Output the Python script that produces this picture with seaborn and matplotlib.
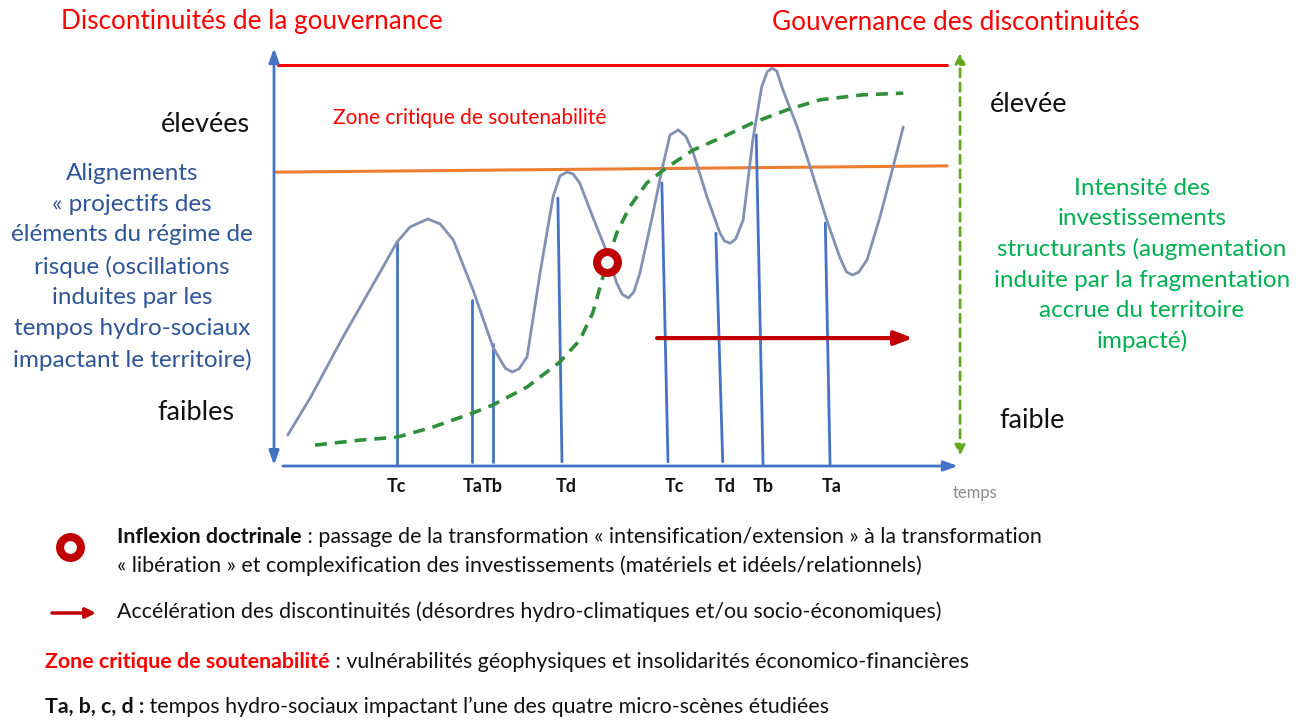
import matplotlib
matplotlib.use("Agg")
import matplotlib.pyplot as plt
import seaborn as sns
import pandas as pd

W, H = 1304, 723

# regime-of-risk oscillation curve (temps 0-100, intensity 0-100)
curve_t = [2.0, 5.3, 10.1, 15.1, 18.0, 19.9, 22.5, 24.3, 26.2, 29.1, 32.0, 33.8, 34.8,
           35.8, 37.0, 38.9, 40.8, 41.8, 42.8, 43.7, 44.7, 46.6, 48.7, 50.1, 50.9,
           51.8, 52.6, 53.5, 55.3, 56.7, 57.9, 59.1, 60.2, 61.3, 63.3, 65.2, 65.9,
           66.7, 67.5, 68.6, 70.0, 71.3, 72.1, 72.8, 73.5, 74.4, 76.5, 78.4, 80.8,
           82.7, 83.7, 84.6, 85.5, 86.7, 88.6, 90.5, 92.0]
curve_v = [7.4, 16.3, 30.9, 45.2, 53.6, 57.2, 59.1, 57.9, 54.1, 42.1, 28.5, 23.4, 22.5,
           23.2, 26.1, 46.2, 64.4, 69.4, 70.3, 69.9, 67.7, 59.6, 51.0, 43.8, 41.1,
           40.2, 41.6, 46.2, 59.6, 70.8, 79.2, 80.4, 78.9, 74.9, 64.4, 55.7, 53.8,
           53.3, 54.3, 58.9, 78.0, 90.7, 94.3, 95.2, 94.5, 90.0, 81.1, 71.5, 58.9,
           50.0, 46.4, 45.7, 46.4, 49.3, 59.6, 71.5, 81.1]

# intensity of structuring investments (dashed green)
invest_t = [6.0, 12.6, 18.0, 23.2, 29.1, 32.0, 37.0, 41.8, 44.7, 46.6, 48.7, 50.1,
            52.0, 54.5, 57.5, 61.3, 65.6, 70.0, 75.0, 79.8, 86.1, 92.0]
invest_v = [5.0, 6.2, 6.9, 9.3, 12.7, 14.6, 18.9, 24.9, 30.1, 36.6, 48.8, 55.7,
            62.0, 67.7, 71.5, 75.6, 78.7, 82.1, 85.2, 87.6, 88.8, 89.2]

# hydro-social times
tick_labels = ["Tc", "Ta", "Tb", "Td", "Tc", "Td", "Tb", "Ta"]
tick_label_t = [17.9, 29.1, 31.9, 42.7, 58.6, 65.9, 71.5, 81.6]
stem_t_bottom = [18.0, 28.9, 32.0, 42.1, 57.6, 65.6, 71.5, 81.3]
stem_t_top = [18.0, 28.9, 32.0, 41.5, 56.7, 64.6, 70.5, 80.6]
stem_v_bottom = [0.0, 1.0, 1.0, 1.0, 1.0, 1.0, 0.0, 0.0]
stem_v_top = [53.6, 39.7, 29.2, 64.1, 67.7, 55.7, 79.2, 58.1]

critical_t = [0.6, 98.4]
critical_v = [95.9, 95.9]
threshold_t = [0.1, 98.4]
threshold_v = [70.3, 71.8]
inflexion_t = [48.7]
inflexion_v = [48.8]
accel_t = [56.0, 93.4]
accel_v = [30.6, 30.6]

BLUE = "#4472c4"
CURVE = "#8191b4"
DGREEN = "#2f8f3a"
LGREEN = "#63a820"
DRED = "#c00000"

sns.set_theme(style="white")
plt.rcParams["font.family"] = ["Lato", "DejaVu Sans"]

fig = plt.figure(figsize=(W / 100, H / 100), dpi=100)

# overlay in pixel units for the surrounding text
ov = fig.add_axes([0, 0, 1, 1])
ov.set_xlim(0, W)
ov.set_ylim(H, 0)
ov.axis("off")

ax = fig.add_axes([274 / W, 1 - 466 / H, 684 / W, 418 / H])
ax.set_xlim(0, 100)
ax.set_ylim(0, 100)
ax.axis("off")
ax.patch.set_alpha(0)

# horizontal levels
ax.plot(critical_t, critical_v, color="#ff0000", lw=2.2)
ax.plot(threshold_t, threshold_v, color="#ed7d31", lw=2.2)

# stems
for tb, tt, vb, vt in zip(stem_t_bottom, stem_t_top, stem_v_bottom, stem_v_top):
    ax.plot([tb, tt], [vb, vt], color=BLUE, lw=2)

df_curve = pd.DataFrame({"t": curve_t, "v": curve_v})
sns.lineplot(data=df_curve, x="t", y="v", sort=False, color=CURVE, lw=2, ax=ax)

df_inv = pd.DataFrame({"t": invest_t, "v": invest_v})
sns.lineplot(data=df_inv, x="t", y="v", sort=False, color=DGREEN, lw=2.6,
             linestyle=(0, (3.3, 2.2)), ax=ax)

# acceleration arrow
ax.annotate("", xy=(accel_t[1], accel_v[1]), xytext=(accel_t[0], accel_v[0]),
            arrowprops=dict(arrowstyle="-|>,head_length=0.9,head_width=0.35",
                            color=DRED, lw=3, shrinkA=0, shrinkB=0))

# inflexion marker
ax.plot(inflexion_t, inflexion_v, marker="o", ms=15, mew=5.8, mfc="white",
        mec=DRED, ls="none", zorder=5)

# axes arrows
ax.annotate("", xy=(0, 100), xytext=(0, 0.2), annotation_clip=False,
            arrowprops=dict(arrowstyle="<|-|>,head_length=0.7,head_width=0.25",
                            color=BLUE, lw=2, shrinkA=0, shrinkB=0))
ax.annotate("", xy=(100, 0), xytext=(1.3, 0), annotation_clip=False,
            arrowprops=dict(arrowstyle="-|>,head_length=0.7,head_width=0.25",
                            color=BLUE, lw=2, shrinkA=0, shrinkB=0))
ax.annotate("", xy=(100.3, 98.8), xytext=(100.3, 2.5), annotation_clip=False,
            arrowprops=dict(arrowstyle="<|-|>,head_length=0.5,head_width=0.25",
                            color=LGREEN, lw=2, ls=(0, (3, 2.2)), shrinkA=0, shrinkB=0))

for lab, t in zip(tick_labels, tick_label_t):
    ax.text(t, -5, lab, ha="center", va="center", fontsize=13, fontweight="bold",
            color="#111111", clip_on=False)

# surrounding text (pixel positions)
ov.text(252, 22, "Discontinuités de la gouvernance", color="#ff0000", fontsize=18.8,
        ha="center", va="center")
ov.text(956, 22, "Gouvernance des discontinuités", color="#ff0000", fontsize=18.8,
        ha="center", va="center")
ov.text(470, 118, "Zone critique de soutenabilité", color="#ff0000", fontsize=15,
        ha="center", va="center")
ov.text(205, 125, "élevées", fontsize=19.5, ha="center", va="center", color="#111111")
ov.text(196, 412, "faibles", fontsize=19.5, ha="center", va="center", color="#111111")
ov.text(1029, 105, "élevée", fontsize=19.5, ha="center", va="center", color="#111111")
ov.text(1032, 420, "faible", fontsize=19.5, ha="center", va="center", color="#111111")
ov.text(975, 493, "temps", fontsize=12, ha="center", va="center", color="#8c8c8c")

ov.text(132, 267, "Alignements\n« projectifs des\néléments du régime de\nrisque (oscillations\n"
        "induites par les\ntempos hydro-sociaux\nimpactant le territoire)",
        color="#2f5597", fontsize=17.5, ha="center", va="center", linespacing=1.56)
ov.text(1142, 265, "Intensité des\ninvestissements\nstructurants (augmentation\n"
        "induite par la fragmentation\naccrue du territoire\nimpacté)",
        color="#00b050", fontsize=17.5, ha="center", va="center", linespacing=1.53)

# legend
LEG = ["Lato", "DejaVu Sans"]
ov.plot([70], [547], marker="o", ms=15, mew=5.8, mfc="white", mec=DRED, ls="none")
ov.annotate("", xy=(96, 613), xytext=(52, 613),
            arrowprops=dict(arrowstyle="-|>,head_length=0.5,head_width=0.25",
                            color=DRED, lw=2.5, shrinkA=0, shrinkB=0))

renderer = fig.canvas.get_renderer()


def rich_line(x, y, parts):
    for txt, color, weight in parts:
        t = ov.text(x, y, txt, color=color, fontweight=weight, fontsize=15.4,
                    family=LEG, ha="left", va="baseline")
        x += t.get_window_extent(renderer).width


rich_line(117, 543, [("Inflexion doctrinale", "#111111", "bold"),
                     (" : passage de la transformation « intensification/extension » à la transformation",
                      "#111111", "normal")])
rich_line(117, 572, [("« libération » et complexification des investissements (matériels et idéels/relationnels)",
                      "#111111", "normal")])
rich_line(117, 618, [("Accélération des discontinuités (désordres hydro-climatiques et/ou socio-économiques)",
                      "#111111", "normal")])
rich_line(45, 668, [("Zone critique de soutenabilité", "#ff0000", "bold"),
                    (" : vulnérabilités géophysiques et insolidarités économico-financières",
                     "#111111", "normal")])
rich_line(45, 713, [("Ta, b, c, d :", "#111111", "bold"),
                    (" tempos hydro-sociaux impactant l\u2019une des quatre micro-scènes étudiées",
                     "#111111", "normal")])

fig.savefig("out.png", dpi=100, facecolor="white")
